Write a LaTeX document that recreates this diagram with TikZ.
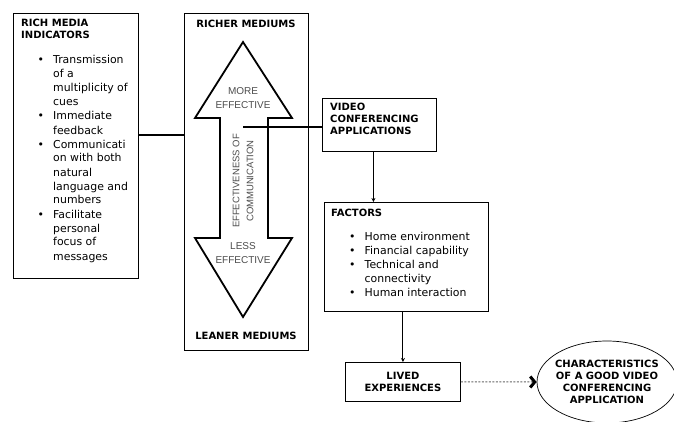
\documentclass[tikz,border=0pt]{standalone}
\usepackage{fontspec}
\setmainfont{DejaVu Sans}
\newfontfamily\arrowfont{Liberation Sans}
\usepackage{tikz}
\usetikzlibrary{arrows.meta,shapes.geometric}

\tikzset{
  box/.style={draw,line width=0.8pt,inner sep=0pt,anchor=north west},
  head/.style={font=\bfseries,align=left,inner sep=0pt},
  list/.style={anchor=north west,inner sep=0pt},
  arrowtext/.style={font=\arrowfont\fontsize{10}{14}\selectfont,text=black!70,align=center,inner sep=0pt},
  link/.style={line width=1.3pt},
  arr/.style={line width=1pt,-{Stealth[length=4pt,width=4pt]}},
  dasharr/.style={line width=1pt,black!60,dash pattern=on 2pt off 1.5pt,
    -{Straight Barb[length=4.5pt,width=11pt,line width=3pt,black]}}
}
\newcommand{\bul}{\makebox[15.5pt][l]{\textbullet}}

\begin{document}
\begin{tikzpicture}[x=1pt,y=-1pt,font=\fontsize{10.9}{14}\selectfont]
 \useasboundingbox (0,0) rectangle (674,422);
 % boxes
 \node[box,minimum width=125pt,minimum height=265pt] (rich) at (13,13) {};
 \node[box,minimum width=124pt,minimum height=337pt] (mid) at (184,13) {};
 \node[box,minimum width=114pt,minimum height=53pt] (video) at (322,98) {};
 \node[box,minimum width=164pt,minimum height=109pt] (factors) at (324,202) {};
 \node[box,minimum width=115pt,minimum height=39pt] (lived) at (345,362) {};
 \node[draw,ellipse,line width=0.7pt,minimum width=140pt,minimum height=82pt] (chars) at (607,382) {};

 % rich media indicators
 \node[head,anchor=north west] at (21,19) {RICH MEDIA\\INDICATORS};
 \node[list] at (37.5,54) {%
  \begin{tabular}{@{}l@{}l@{}}
   \bul & Transmission\\
        & of a\\
        & multiplicity of\\
        & cues\\
   \bul & Immediate\\
        & feedback\\
   \bul & Communicati\\
        & on with both\\
        & natural\\
        & language and\\
        & numbers\\
   \bul & Facilitate\\
        & personal\\
        & focus of\\
        & messages
  \end{tabular}};

 % mediums and the double arrow
 \node[head] at (246,24) {RICHER MEDIUMS};
 \node[head] at (246,336) {LEANER MEDIUMS};
 \draw[line width=1.8pt,line join=miter] (243,42) -- (292,118) -- (268,118) -- (268,238)
   -- (292,238) -- (243,317) -- (195,238) -- (220,238) -- (220,118) -- (195,118) -- cycle;
 \node[arrowtext] at (243,98) {MORE\\EFFECTIVE};
 \node[arrowtext] at (243,253) {LESS\\EFFECTIVE};
 \node[arrowtext,font=\arrowfont\fontsize{9.5}{14}\selectfont,rotate=90] at (243,181)
   {EFFECTIVENESS OF\\COMMUNICATION};
 \coordinate (shaft) at (243,127);

 % video conferencing applications
 \node[head,anchor=north west] at (330,103) {VIDEO\\CONFERENCING\\APPLICATIONS};

 % factors
 \node[head,anchor=north west] at (331,209) {FACTORS};
 \node[list] at (349,230) {%
  \begin{tabular}{@{}l@{}l@{}}
   \bul & Home environment\\
   \bul & Financial capability\\
   \bul & Technical and\\
        & connectivity\\
   \bul & Human interaction
  \end{tabular}};

 % lived experiences and characteristics
 \node[head,align=center] at (lived.center) {LIVED\\EXPERIENCES};
 \node[head,align=center] at (chars.center) {CHARACTERISTICS\\OF A GOOD VIDEO\\CONFERENCING\\APPLICATION};

 % connectors
 \coordinate (j) at (160,135);
 \draw[link] (j -| rich.east) -- (j -| mid.west);
 \draw[link] (shaft) -- (shaft -| video.west);
 \draw[arr] ([xshift=-6pt]video.south) -- ([xshift=-6pt]video.south |- factors.north);
 \draw[arr] (factors.south -| lived.north) -- (lived.north);
 \draw[dasharr] (lived.east) -- (chars.west);
\end{tikzpicture}
\end{document}
